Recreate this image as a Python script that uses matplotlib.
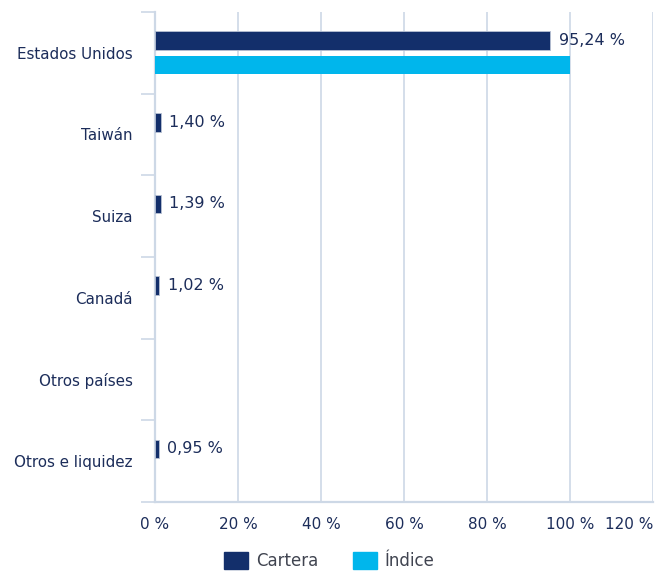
import numpy as np
import matplotlib.pyplot as plt
from matplotlib.patches import Patch

# data
categories = ["Estados Unidos", "Taiwán", "Suiza", "Canadá", "Otros países", "Otros e liquidez"]
cartera = [95.24, 1.40, 1.39, 1.02, np.nan, 0.95]
indice = [100.0, np.nan, np.nan, np.nan, np.nan, np.nan]
x_ticks = [0, 20, 40, 60, 80, 100, 120]

navy = "#132f6b"
cyan = "#00b6ec"
grid_c = "#cdd8e6"
text_c = "#1c2d5a"

fig = plt.figure(figsize=(6.72, 5.72), dpi=100)
ax = fig.add_axes([155 / 672, 1 - 502 / 572, 498 / 672, 490 / 572])

y = np.arange(len(categories))
h = 0.23
off = 0.15
c = np.array(cartera)
i = np.array(indice)
mc = ~np.isnan(c)
mi = ~np.isnan(i)
ax.barh(y[mc] - off, c[mc], height=h, color=navy, edgecolor="#b8c2d4", linewidth=0.6, zorder=3)
ax.barh(y[mi] + off, i[mi], height=h, color=cyan, zorder=3)

for yi, v in zip(y[mc], c[mc]):
    ax.text(v + 2, yi - off, f"{v:.2f} %".replace(".", ","), va="center", ha="left",
            fontsize=11.5, color=text_c, zorder=4)

ax.set_xlim(0, 120)
ax.set_ylim(len(categories) - 0.5, -0.5)
ax.set_xticks(x_ticks)
ax.set_xticklabels([f"{t} %" for t in x_ticks], fontsize=11, color=text_c)
ax.get_xticklabels()[-1].set_ha("right")
ax.tick_params(axis="x", length=0, pad=11)

ax.set_yticks(y)
ax.set_yticklabels(categories, fontsize=10.9, color=text_c)
ax.set_yticks(np.arange(-0.5, len(categories)), minor=True)
ax.tick_params(axis="y", which="major", length=0, pad=16)
ax.tick_params(axis="y", which="minor", length=10, width=1.2, color=grid_c)

ax.grid(axis="x", color=grid_c, linewidth=1.2, zorder=0)
for s in ["top", "right"]:
    ax.spines[s].set_visible(False)
ax.spines["left"].set_color(grid_c)
ax.spines["left"].set_linewidth(1.6)
ax.spines["bottom"].set_color(grid_c)
ax.spines["bottom"].set_linewidth(1.6)

handles = [Patch(color=navy, label="Cartera"), Patch(color=cyan, label="Índice")]
fig.legend(handles=handles, loc="center", bbox_to_anchor=(0.49, 1 - 561 / 572), ncol=2,
           frameon=False, fontsize=12, handlelength=1.45, handleheight=1.15,
           columnspacing=2.1, handletextpad=0.45, labelcolor="#404450")

fig.savefig("out.png", dpi=100)
